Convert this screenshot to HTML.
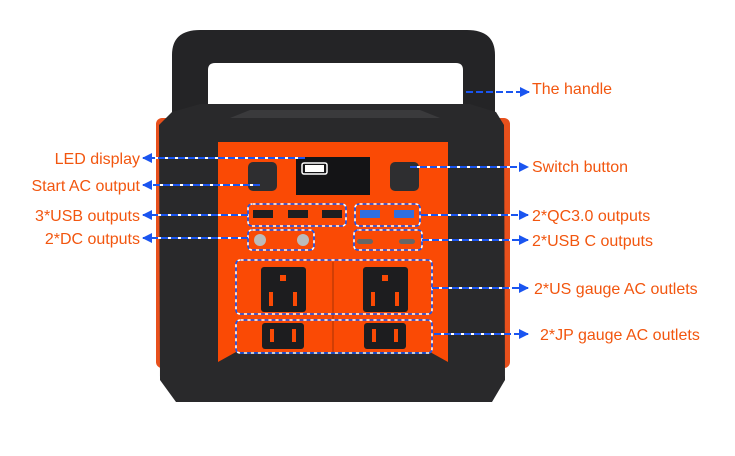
<!DOCTYPE html>
<html><head><meta charset="utf-8"><style>
html,body{margin:0;padding:0;background:#fff;width:735px;height:456px;overflow:hidden}
svg text{font-family:"Liberation Sans",sans-serif;font-size:16px;fill:#f2560f}
</style></head><body>
<svg width="735" height="456" viewBox="0 0 735 456" xmlns="http://www.w3.org/2000/svg">
<defs>
<marker id="a" markerWidth="10" markerHeight="10" refX="9" refY="5" orient="auto" markerUnits="userSpaceOnUse"><path d="M0,0 L10,5 L0,10 Z" fill="#1a55f0"/></marker>
</defs>
<path d="M172,115 L172,55 Q172,30 200,30 L467,30 Q495,30 495,55 L495,115 L463,115 L463,70 Q463,63 456,63 L215,63 Q208,63 208,70 L208,115 Z" fill="#242426"/>
<rect x="156" y="118" width="354" height="250" rx="6" fill="#e8501c"/>
<path d="M172,112 L200,104 L470,104 L496,112 L504,125 L505,380 L492,402 L176,402 L160,380 L159,125 Z" fill="#29292b"/>
<path d="M230,118 L250,110 L420,110 L440,118 Z" fill="#3a3a3c"/>
<path d="M218,142 L448,142 L448,362 L430,352 L236,352 L218,362 Z" fill="#fa4a05"/>
<rect x="248" y="162" width="29" height="29" rx="5" fill="#2e2e30"/>
<rect x="390" y="162" width="29" height="29" rx="5" fill="#2e2e30"/>
<rect x="296" y="157" width="74" height="38" fill="#141416"/>
<rect x="302" y="163" width="25" height="11" rx="2" fill="none" stroke="#fff" stroke-width="1.5"/>
<rect x="305" y="165" width="19" height="7" fill="#fff"/>
<g fill="#1e1e20"><rect x="253" y="210" width="20" height="8"/><rect x="288" y="210" width="20" height="8"/><rect x="322" y="210" width="20" height="8"/></g>
<g fill="#2f6fe0"><rect x="360" y="210" width="20" height="8"/><rect x="394" y="210" width="20" height="8"/></g>
<circle cx="260" cy="240" r="6" fill="#bbb"/><circle cx="303" cy="240" r="6" fill="#bbb"/>
<rect x="357" y="239" width="16" height="5" rx="2.5" fill="#666"/><rect x="399" y="239" width="16" height="5" rx="2.5" fill="#666"/>
<line x1="333" y1="262" x2="333" y2="352" stroke="#a83205" stroke-width="1"/>
<g fill="#1d1d1f"><rect x="261" y="267" width="45" height="45" rx="3"/><rect x="363" y="267" width="45" height="45" rx="3"/></g>
<g fill="#fa4a05"><rect x="280" y="275" width="6" height="6"/><rect x="269" y="292" width="4" height="14"/><rect x="293" y="292" width="4" height="14"/>
<rect x="382" y="275" width="6" height="6"/><rect x="371" y="292" width="4" height="14"/><rect x="395" y="292" width="4" height="14"/></g>
<g fill="#1d1d1f"><rect x="262" y="323" width="42" height="26" rx="3"/><rect x="364" y="323" width="42" height="26" rx="3"/></g>
<g fill="#fa4a05"><rect x="270" y="329" width="4" height="13"/><rect x="292" y="329" width="4" height="13"/><rect x="372" y="329" width="4" height="13"/><rect x="394" y="329" width="4" height="13"/></g>
<g fill="none" stroke-width="1.6" stroke-dasharray="4,3">
<g stroke="#fff">
<rect x="248" y="204" width="98" height="22" rx="4"/><rect x="355" y="204" width="65" height="22" rx="4"/>
<rect x="248" y="230" width="66" height="20" rx="4"/><rect x="354" y="230" width="68" height="20" rx="4"/>
<rect x="236" y="260" width="196" height="54" rx="4"/><rect x="236" y="320" width="196" height="33" rx="4"/>
</g>
<g stroke="#1a55f0" stroke-dashoffset="3.5">
<rect x="248" y="204" width="98" height="22" rx="4"/><rect x="355" y="204" width="65" height="22" rx="4"/>
<rect x="248" y="230" width="66" height="20" rx="4"/><rect x="354" y="230" width="68" height="20" rx="4"/>
<rect x="236" y="260" width="196" height="54" rx="4"/><rect x="236" y="320" width="196" height="33" rx="4"/>
</g>
</g>
<g stroke-width="2" fill="none">
<g stroke="#fff" stroke-dasharray="7,3" stroke-dashoffset="5">
<line x1="305" y1="158" x2="150" y2="158"/><line x1="260" y1="185" x2="150" y2="185"/>
<line x1="248" y1="215" x2="150" y2="215"/><line x1="248" y1="238" x2="150" y2="238"/>
<line x1="410" y1="167" x2="515" y2="167"/><line x1="421" y1="215" x2="515" y2="215"/>
<line x1="422" y1="240" x2="515" y2="240"/><line x1="432" y1="288" x2="515" y2="288"/><line x1="434" y1="334" x2="515" y2="334"/>
</g>
<g stroke="#1a55f0" stroke-dasharray="7,3">
<line x1="305" y1="158" x2="143" y2="158" marker-end="url(#a)"/>
<line x1="260" y1="185" x2="143" y2="185" marker-end="url(#a)"/>
<line x1="248" y1="215" x2="143" y2="215" marker-end="url(#a)"/>
<line x1="248" y1="238" x2="143" y2="238" marker-end="url(#a)"/>
<line x1="410" y1="167" x2="528" y2="167" marker-end="url(#a)"/>
<line x1="421" y1="215" x2="528" y2="215" marker-end="url(#a)"/>
<line x1="422" y1="240" x2="528" y2="240" marker-end="url(#a)"/>
<line x1="432" y1="288" x2="528" y2="288" marker-end="url(#a)"/>
<line x1="434" y1="334" x2="528" y2="334" marker-end="url(#a)"/>
<line x1="466" y1="92" x2="529" y2="92" marker-end="url(#a)"/>
</g>
</g>
<text x="532" y="94">The handle</text>
<text x="140" y="164" text-anchor="end">LED display</text>
<text x="140" y="191" text-anchor="end">Start AC output</text>
<text x="140" y="221" text-anchor="end">3*USB outputs</text>
<text x="140" y="244" text-anchor="end">2*DC outputs</text>
<text x="532" y="172">Switch button</text>
<text x="532" y="221">2*QC3.0 outputs</text>
<text x="532" y="246">2*USB C outputs</text>
<text x="534" y="294">2*US gauge AC outlets</text>
<text x="540" y="340">2*JP gauge AC outlets</text>
</svg>
</body></html>
